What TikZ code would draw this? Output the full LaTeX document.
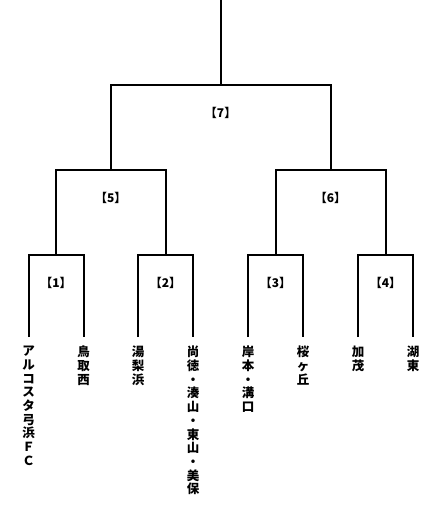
\documentclass[tikz,border=0pt]{standalone}
\usepackage{fontspec}
\newfontfamily\jp{Noto Sans CJK JP}
\begin{document}
\begin{tikzpicture}[x=1pt,y=-1pt,
  bline/.style={line width=2pt,black},
  leaf/.style={anchor=north,inner sep=0pt,align=center,font=\jp\bfseries\fontsize{12.5}{13.7}\selectfont},
  rlabel/.style={inner sep=0pt,font=\jp\bfseries\fontsize{12}{14}\selectfont}]
\useasboundingbox (0,0) rectangle (434,510);
% leaves
\coordinate (a1) at (28.5,337);
\coordinate (a2) at (83.5,337);
\coordinate (a3) at (138,337);
\coordinate (a4) at (193,337);
\coordinate (a5) at (248,337);
\coordinate (a6) at (303,337);
\coordinate (a7) at (358,337);
\coordinate (a8) at (413,337);
% junctions
\coordinate (b1) at (56,255);
\coordinate (b2) at (165.5,255);
\coordinate (b3) at (275.5,255);
\coordinate (b4) at (385.5,255);
\coordinate (c1) at (110.75,170);
\coordinate (c2) at (330.5,170);
\coordinate (d) at (220.6,85);
\coordinate (top) at (220.6,0);
\draw[bline] (a1) |- (b1) -| (a2);
\draw[bline] (a3) |- (b2) -| (a4);
\draw[bline] (a5) |- (b3) -| (a6);
\draw[bline] (a7) |- (b4) -| (a8);
\draw[bline] (b1) |- (c1) -| (b2);
\draw[bline] (b3) |- (c2) -| (b4);
\draw[bline] (c1) |- (d) -| (c2);
\draw[bline] (d) -- (top);
% round labels
\node[rlabel] (r1) at (56,283) {【1】};
\node[rlabel] (r2) at (165.5,283) {【2】};
\node[rlabel] (r3) at (275.5,283) {【3】};
\node[rlabel] (r4) at (385.5,283) {【4】};
\node[rlabel] (r5) at (110.75,198) {【5】};
\node[rlabel] (r6) at (330.5,198) {【6】};
\node[rlabel] (r7) at (220.6,113) {【7】};
% team names
\node[leaf] (t1) at (28.5,346) {ア\\ル\\コ\\ス\\タ\\弓\\浜\\Ｆ\\Ｃ};
\node[leaf] (t2) at (83.5,346) {鳥\\取\\西};
\node[leaf] (t3) at (138,346) {湯\\梨\\浜};
\node[leaf] (t4) at (193,346) {尚\\徳\\・\\湊\\山\\・\\東\\山\\・\\美\\保};
\node[leaf] (t5) at (248,346) {岸\\本\\・\\溝\\口};
\node[leaf] (t6) at (303,346) {桜\\ヶ\\丘};
\node[leaf] (t7) at (358,346) {加\\茂};
\node[leaf] (t8) at (413,346) {湖\\東};
\end{tikzpicture}
\end{document}
